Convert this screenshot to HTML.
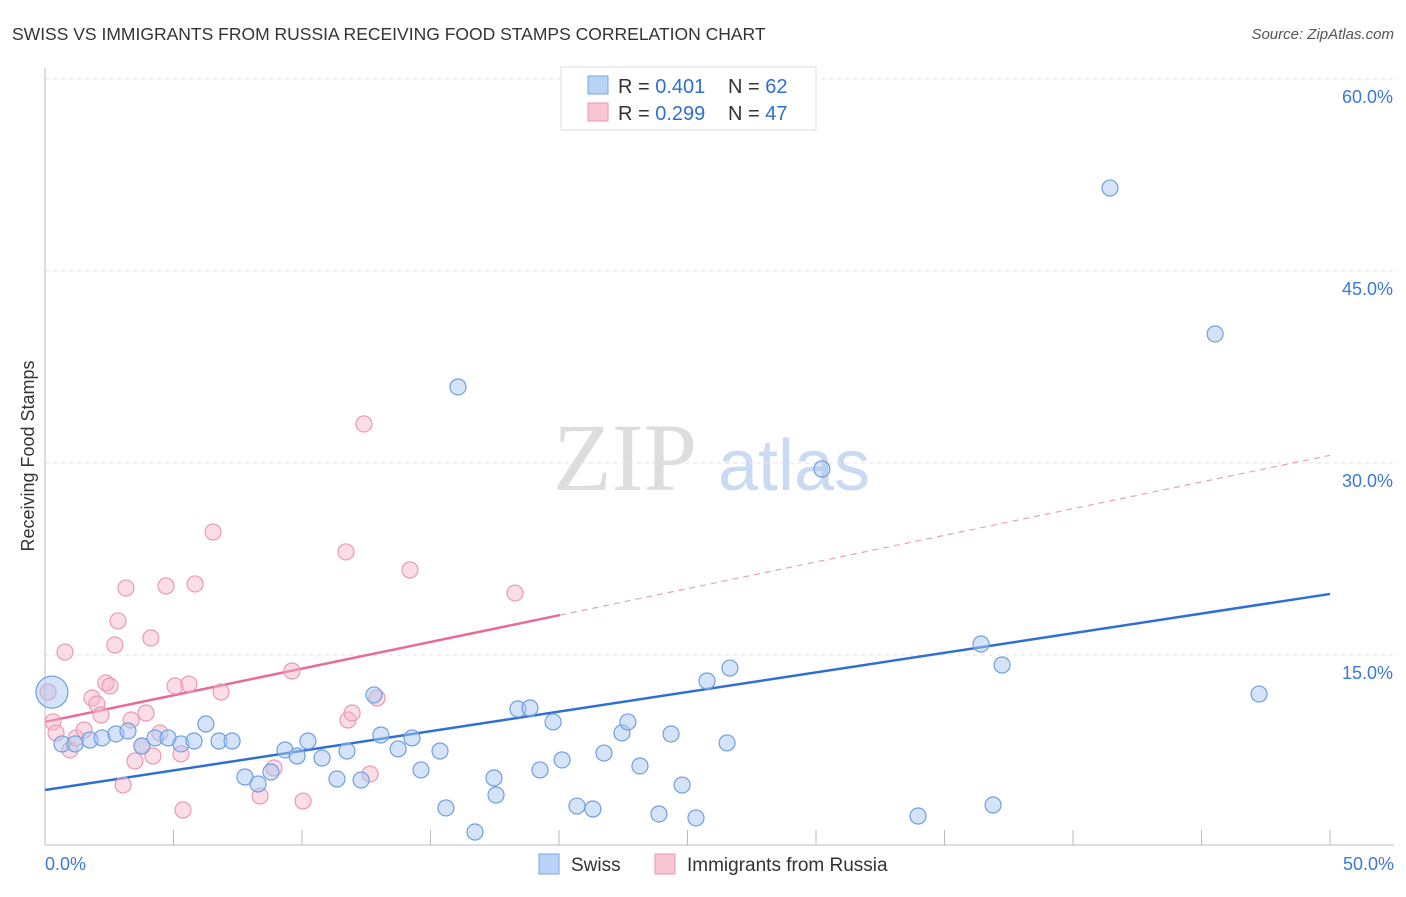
<!DOCTYPE html>
<html><head><meta charset="utf-8"><style>
body{margin:0;background:#fff;font-family:"Liberation Sans",sans-serif}
</style></head><body>
<svg width="1406" height="892" xmlns="http://www.w3.org/2000/svg" id="chart">
<text x="12" y="40" font-size="17.5" fill="#333">SWISS VS IMMIGRANTS FROM RUSSIA RECEIVING FOOD STAMPS CORRELATION CHART</text>
<text x="1394" y="39" font-size="15" fill="#555" font-style="italic" text-anchor="end">Source: ZipAtlas.com</text>
<text x="34" y="456" font-size="18" fill="#333" text-anchor="middle" transform="rotate(-90 34 456)">Receiving Food Stamps</text>
<text x="553" y="490" font-size="96" fill="#ddd" font-family="Liberation Serif">ZIP</text>
<text x="718" y="490" font-size="72" fill="#c9daf2">atlas</text>
<g id="grid"></g><g id="trends"></g><g id="pts"></g>
<g>
<rect x="561" y="67" width="255" height="63" fill="#fff" stroke="#ddd"/>
<rect x="588" y="76" width="20" height="18" fill="#b8d3f5" stroke="#7aa6e0"/>
<rect x="588" y="103" width="20" height="18" fill="#f9c6d6" stroke="#ec93b0"/>
<text x="618" y="93" font-size="20" fill="#333">R = <tspan fill="#2f6fd4">0.401</tspan></text>
<text x="728" y="93" font-size="20" fill="#333">N = <tspan fill="#2f6fd4">62</tspan></text>
<text x="618" y="120" font-size="20" fill="#333">R = <tspan fill="#2f6fd4">0.299</tspan></text>
<text x="728" y="120" font-size="20" fill="#333">N = <tspan fill="#2f6fd4">47</tspan></text>
</g>
<g>
<rect x="539" y="854" width="20" height="20" fill="#b8d3f5" stroke="#7aa6e0"/>
<text x="571" y="871" font-size="19" fill="#333">Swiss</text>
<rect x="655" y="854" width="20" height="20" fill="#f9c6d6" stroke="#ec93b0"/>
<text x="687" y="871" font-size="19" fill="#333">Immigrants from Russia</text>
</g>
</svg>
<script>
const swissX=[0.66,1.17,1.75,2.22,2.76,3.23,3.77,4.28,4.79,5.29,5.80,6.26,6.77,7.28,7.78,8.29,8.79,9.34,9.81,10.23,10.78,11.36,11.75,12.30,12.80,13.07,13.74,14.28,14.63,15.37,15.60,16.07,16.73,17.47,17.55,18.40,18.87,19.26,19.77,20.12,20.70,21.32,21.75,22.45,22.68,23.15,23.89,24.36,24.79,25.33,25.76,26.54,26.65,30.23,33.97,36.42,36.89,37.24,41.44,45.53,47.24];
const swissY=[8.05,8.05,8.36,8.52,8.83,9.06,7.89,8.52,8.52,8.05,8.28,9.61,8.28,8.28,5.47,4.92,5.86,7.58,7.11,8.28,6.95,5.31,7.5,5.23,11.88,8.75,7.66,8.52,6.02,7.5,3.05,35.94,1.17,5.39,4.06,10.78,10.86,6.02,9.77,6.80,3.20,2.97,7.34,8.91,9.77,6.33,2.58,8.83,4.84,2.27,12.97,8.13,13.98,29.53,2.42,15.86,3.28,14.22,51.48,40.08,11.95];
const rusX=[0.12,0.31,0.43,0.78,0.97,1.21,1.52,1.83,2.02,2.18,2.37,2.53,2.72,2.84,3.04,3.15,3.35,3.50,3.77,3.93,4.12,4.20,4.47,4.71,5.06,5.29,5.37,5.60,5.84,6.54,6.85,8.37,8.91,9.61,10.04,11.71,11.79,11.95,12.41,12.65,12.92,14.20,18.29];
const rusY=[12.11,9.77,8.91,15.23,7.58,8.52,9.14,11.64,11.17,10.31,12.81,12.58,15.78,17.66,4.84,20.23,9.92,6.72,7.89,10.47,16.33,7.11,8.91,20.39,12.58,7.27,2.89,12.73,20.55,24.61,12.11,3.98,6.17,13.75,3.59,23.05,9.92,10.47,33.05,5.70,11.64,21.64,19.84];
const bigX=[0.27], bigY=[12.1];
const yTicks=[15,30,45,60];
const yTickLabels=["15.0%","30.0%","45.0%","60.0%"];
const swissTrend=[4.45,19.77];
const rusTrend=[9.77,30.6];
const rusSolidEnd=20.04;
const X=v=>45+v*25.7, Y=v=>847-v*12.8;
const NS="http://www.w3.org/2000/svg";
function mk(p,t,a){const e=document.createElementNS(NS,t);for(const k in a)e.setAttribute(k,a[k]);document.getElementById(p).appendChild(e);return e;}
let e;
yTicks.forEach((t,i)=>{
 e=mk('grid','line',{x1:45,x2:1394,y1:Y(t),y2:Y(t),stroke:'#e2e2e2','stroke-dasharray':'4 4'});
 
 
 e=mk('grid','text',{x:1393,y:Y(t)+24,'font-size':18,fill:'#3b78d8','text-anchor':'end'});e.textContent=yTickLabels[i];
 
 
});
e=mk('grid','line',{x1:45,x2:45,y1:68,y2:845,stroke:'#bbb'});


e=mk('grid','line',{x1:45,x2:1394,y1:845,y2:845,stroke:'#bbb'});


for(let v=5;v<=50;v+=5){e=mk('grid','line',{x1:X(v),x2:X(v),y1:830,y2:845,stroke:'#bbb'});
 
 }
e=mk('grid','text',{x:45,y:870,'font-size':18,fill:'#3b78d8'});e.textContent='0.0%';


e=mk('grid','text',{x:1394,y:870,'font-size':18,fill:'#3b78d8','text-anchor':'end'});e.textContent='50.0%';


const rv=x=>rusTrend[0]+(rusTrend[1]-rusTrend[0])*x/50;
e=mk('trends','line',{x1:X(0),y1:Y(swissTrend[0]),x2:X(50),y2:Y(swissTrend[1]),stroke:'#2f6fd4','stroke-width':2.5});


e=mk('trends','line',{x1:X(0),y1:Y(rv(0)),x2:X(rusSolidEnd),y2:Y(rv(rusSolidEnd)),stroke:'#e8699a','stroke-width':2.5});


e=mk('trends','line',{x1:X(rusSolidEnd),y1:Y(rv(rusSolidEnd)),x2:X(50),y2:Y(rv(50)),stroke:'#e8a0ba','stroke-width':1.2,'stroke-dasharray':'6 5'});


rusX.forEach((x,i)=>{e=mk('pts','circle',{cx:X(x),cy:Y(rusY[i]),r:8,fill:'rgba(246,180,202,0.45)',stroke:'#eb98b5','stroke-width':1.2});
 
 });
swissX.forEach((x,i)=>{e=mk('pts','circle',{cx:X(x),cy:Y(swissY[i]),r:8,fill:'rgba(170,200,240,0.5)',stroke:'#6f9fe0','stroke-width':1.2});
 
 });
bigX.forEach((x,i)=>{e=mk('pts','circle',{cx:X(x),cy:Y(bigY[i]),r:16,fill:'rgba(170,200,240,0.5)',stroke:'#6f9fe0','stroke-width':1.2});
 
 });
</script>
</body></html>
